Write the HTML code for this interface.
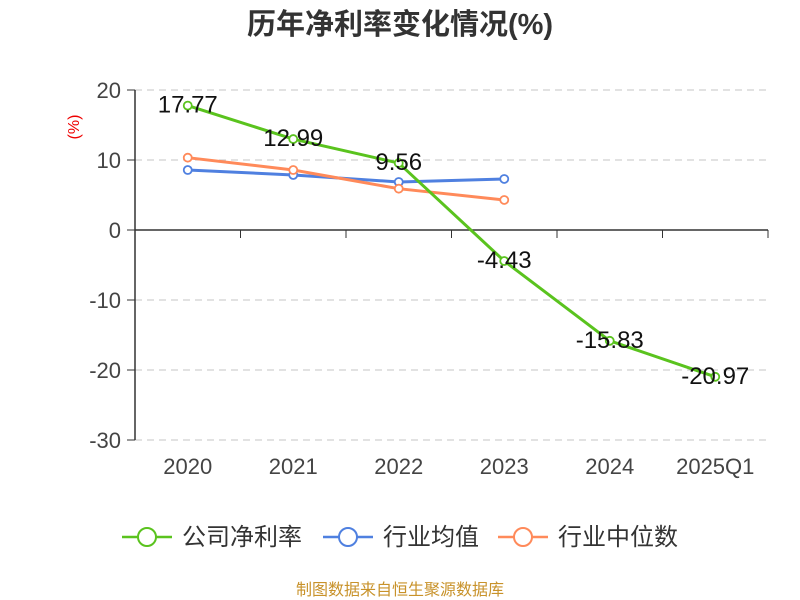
<!DOCTYPE html>
<html><head><meta charset="utf-8"><style>
body{margin:0;background:#fff;}
svg{display:block;font-family:"Liberation Sans","Noto Sans CJK SC",sans-serif;}
</style></head><body>
<svg id="c" width="800" height="600">
<text x="400" y="34" text-anchor="middle" font-size="29" font-weight="bold" fill="#333">历年净利率变化情况(%)</text>
<text transform="translate(79,127) rotate(-90)" text-anchor="middle" font-size="16" fill="#e00">(%)</text>
<text x="400" y="595" text-anchor="middle" font-size="16" fill="#c8922a">制图数据来自恒生聚源数据库</text>
<g id="grid"></g><g id="axes"></g><g id="series"></g><g id="legend"></g>
</svg>
<script>
const categories=["2020","2021","2022","2023","2024","2025Q1"];
const yTicks=[20,10,0,-10,-20,-30];
const companyVals=[17.77,12.99,9.56,-4.43,-15.83,-20.97];
const industryAvg=[8.57,7.86,6.86,7.29];
const industryMed=[10.33,8.57,5.9,4.29];
const NS="http://www.w3.org/2000/svg";
const x0=135,x1=768,band=(x1-x0)/categories.length;
const xPos=i=>x0+band*(i+0.5);
const yPos=v=>230-v*7;
function mk(tag,attrs,parent,text){const e=document.createElementNS(NS,tag);for(const k in attrs)e.setAttribute(k,attrs[k]);if(text!==undefined)e.textContent=text;parent.appendChild(e);return e;}
const grid=document.getElementById('grid'),axes=document.getElementById('axes'),ser=document.getElementById('series'),leg=document.getElementById('legend');
yTicks.forEach(t=>{
  const y=yPos(t);
  if(t!==0){const l=mk('line',{x1:x0,x2:x1,y1:y,y2:y,stroke:'#c4c4c4','stroke-dasharray':'7,5'},grid);
  
  }
  mk('line',{x1:x0-8,x2:x0,y1:y,y2:y,stroke:'#333'},axes);
  const tx=mk('text',{x:x0-14,y:y+8,'text-anchor':'end','font-size':22,fill:'#444'},axes,String(t));
  
  
});
mk('line',{x1:x0,x2:x0,y1:yPos(20),y2:yPos(-30),stroke:'#333','stroke-width':1.5},axes);
mk('line',{x1:x0,x2:x1,y1:yPos(0),y2:yPos(0),stroke:'#333','stroke-width':1.5},axes);
for(let i=0;i<=categories.length;i++){const x=x0+band*i;mk('line',{x1:x,x2:x,y1:230,y2:238,stroke:'#333'},axes);}
categories.forEach((c,i)=>{const t=mk('text',{x:xPos(i),y:474,'text-anchor':'middle','font-size':22,fill:'#444'},axes,c);

});
function series(vals,color,name,labels){
  const g=mk('g',{},ser);
  
  
  mk('polyline',{points:vals.map((v,i)=>xPos(i)+','+yPos(v)).join(' '),fill:'none',stroke:color,'stroke-width':3},g);
  vals.forEach((v,i)=>{const p=mk('circle',{cx:xPos(i),cy:yPos(v),r:4,fill:'#fff',stroke:color,'stroke-width':1.8},g);
  
  
  if(labels){const t=mk('text',{x:xPos(i),y:yPos(v)+7,'text-anchor':'middle','font-size':24,fill:'#111'},g,v.toFixed(2));
  
  }});
}
series(industryAvg,'#4f80e0','industry-average',false);
series(industryMed,'#ff8a5a','industry-median',false);
series(companyVals,'#5ac31e','company-net-margin',true);
const items=[["公司净利率","#5ac31e",122],["行业均值","#4f80e0",323],["行业中位数","#ff8a5a",498]];
items.forEach(([n,c,x])=>{const g=mk('g',{},leg);


mk('line',{x1:x,x2:x+50,y1:537,y2:537,stroke:c,'stroke-width':2.5},g);
mk('circle',{cx:x+25,cy:537,r:9,fill:'#fff',stroke:c,'stroke-width':2},g);
mk('text',{x:x+60,y:545,'font-size':24,fill:'#333'},g,n);});
</script>
</body></html>
